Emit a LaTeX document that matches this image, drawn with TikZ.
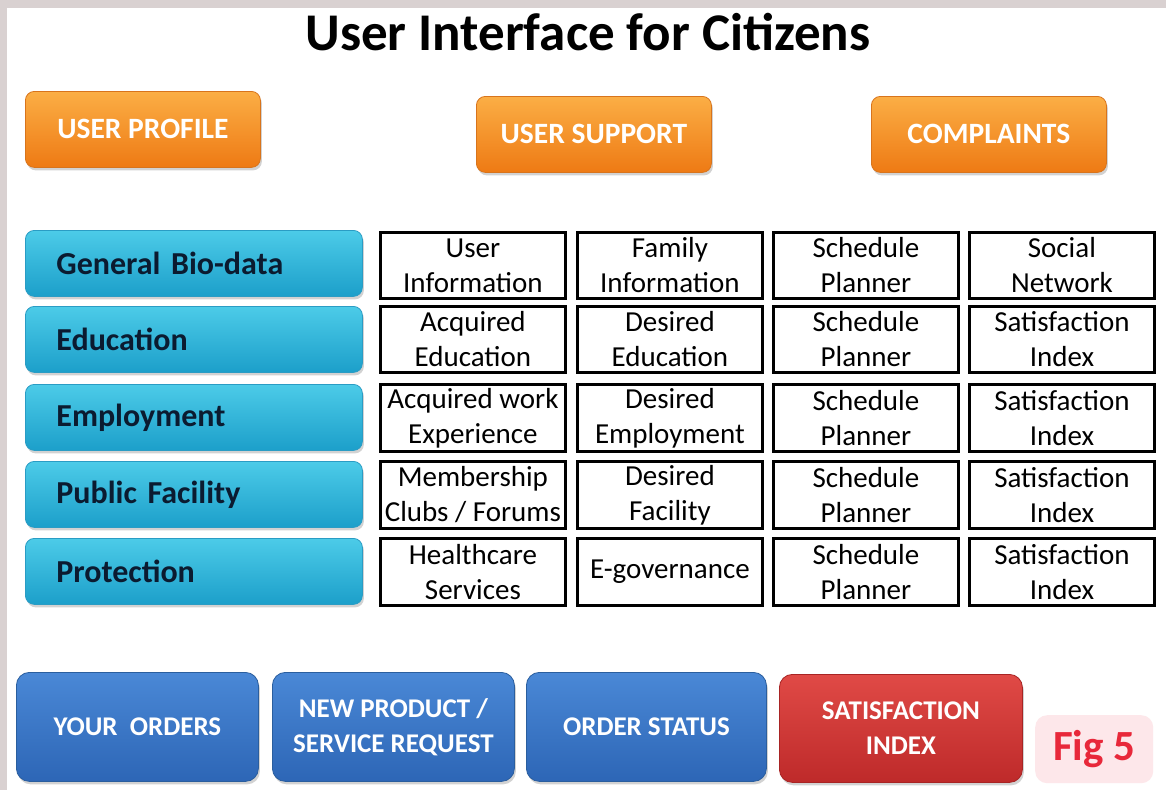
\documentclass[tikz,border=0pt]{standalone}
\usepackage{fontspec}
\setmainfont{Carlito}
\usetikzlibrary{shadows}
\definecolor{framegray}{HTML}{D9D1D1}
\definecolor{orTop}{HTML}{FBAE45}
\definecolor{orBot}{HTML}{EE7A14}
\definecolor{orLine}{HTML}{D8741C}
\definecolor{cyTop}{HTML}{4CCBE8}
\definecolor{cyBot}{HTML}{1C9FCA}
\definecolor{cyLine}{HTML}{2A9CC4}
\definecolor{cyText}{HTML}{0B1B30}
\definecolor{blTop}{HTML}{4A88D6}
\definecolor{blBot}{HTML}{2D66B6}
\definecolor{blLine}{HTML}{2A5E9E}
\definecolor{rdTop}{HTML}{E04A46}
\definecolor{rdBot}{HTML}{BE2A2A}
\definecolor{rdLine}{HTML}{A82424}
\definecolor{figFill}{HTML}{FDE7EA}
\definecolor{figText}{HTML}{E8283A}
\tikzset{
  obtn/.style={rounded corners=9pt, draw=orLine, line width=0.8pt,
    top color=orTop, bottom color=orBot,
    drop shadow={opacity=0.35, shadow xshift=1.5pt, shadow yshift=-3pt},
    text=white, font=\bfseries\fontsize{29.5}{35}\selectfont,
    minimum width=235, minimum height=76, inner sep=0pt, anchor=north west},
  cbar/.style={rounded corners=9pt, draw=cyLine, line width=0.8pt,
    top color=cyTop, bottom color=cyBot,
    drop shadow={opacity=0.35, shadow xshift=1.5pt, shadow yshift=-3pt},
    text=cyText, font=\bfseries\fontsize{32}{38}\selectfont,
    minimum width=337, minimum height=66, inner xsep=31pt, inner ysep=0pt,
    text width=275pt, align=left, anchor=north west},
  cell/.style={draw=black, line width=2.8pt, fill=white,
    minimum width=185, minimum height=66, inner sep=0pt,
    align=center, font=\fontsize{29}{35}\selectfont, anchor=north west},
  bbtn/.style={rounded corners=13pt, draw=blLine, line width=0.8pt,
    top color=blTop, bottom color=blBot,
    drop shadow={opacity=0.35, shadow xshift=1.5pt, shadow yshift=-3pt},
    text=white, font=\bfseries\fontsize{27}{35}\selectfont, align=center,
    minimum width=242, minimum height=109, inner sep=0pt, anchor=north west},
  rbtn/.style={bbtn, draw=rdLine, top color=rdTop, bottom color=rdBot},
}
\begin{document}
\begin{tikzpicture}[x=1pt,y=-1pt]
\useasboundingbox (0,0) rectangle (1166,790);
\fill[white] (0,0) rectangle (1166,790);
\fill[framegray] (0,0) rectangle (1166,8);
\fill[framegray] (0,0) rectangle (7,790);

\node[font=\bfseries\fontsize{53}{60}\selectfont, anchor=base] (title) at (588,50) {User Interface for Citizens};

\node[obtn] (profile) at (25,91) {USER PROFILE};
\node[obtn] (support) at (476,96) {USER SUPPORT};
\node[obtn] (complaints) at (871,96) {COMPLAINTS};

\node[cbar] (bio) at (25,230) {General Bio-data};
\node[cbar] (edu) at (25,306) {Education};
\node[cbar] (emp) at (25,384) {Employment};
\node[cbar] (pub) at (25,461) {Public Facility};
\node[cbar] (pro) at (25,538) {Protection};

\node[cell] (c11) at (379,231) {User\\Information};
\node[cell] (c12) at (576,231) {Family\\Information};
\node[cell] (c13) at (772,231) {Schedule\\Planner};
\node[cell] (c14) at (968,231) {Social\\Network};

\node[cell] (c21) at (379,305) {Acquired\\Education};
\node[cell] (c22) at (576,305) {Desired\\Education};
\node[cell] (c23) at (772,305) {Schedule\\Planner};
\node[cell] (c24) at (968,305) {Satisfaction\\Index};

\node[cell, minimum height=67] (c31) at (379,383) {Acquired work\\Experience};
\node[cell, minimum height=67] (c32) at (576,383) {Desired\\Employment};
\node[cell, minimum height=67] (c33) at (772,383) {Schedule\\Planner};
\node[cell, minimum height=67] (c34) at (968,383) {Satisfaction\\Index};

\node[cell, minimum height=67] (c41) at (379,460) {Membership\\Clubs / Forums};
\node[cell, minimum height=67] (c42) at (576,460) {Desired\\Facility};
\node[cell, minimum height=67] (c43) at (772,460) {Schedule\\Planner};
\node[cell, minimum height=67] (c44) at (968,460) {Satisfaction\\Index};

\node[cell, minimum height=67] (c51) at (379,537) {Healthcare\\Services};
\node[cell, minimum height=67] (c52) at (576,537) {E-governance};
\node[cell, minimum height=67] (c53) at (772,537) {Schedule\\Planner};
\node[cell, minimum height=67] (c54) at (968,537) {Satisfaction\\Index};

\node[bbtn] (orders) at (16,672) {YOUR~~ORDERS};
\node[bbtn] (newreq) at (272,672) {NEW PRODUCT /\\SERVICE REQUEST};
\node[bbtn, minimum width=240] (status) at (526,672) {ORDER STATUS};
\node[rbtn, minimum width=243, minimum height=108] (sat) at (779,674) {SATISFACTION\\INDEX};

\node[fill=figFill, rounded corners=12pt, minimum width=118, minimum height=68, inner sep=0pt,
  anchor=north west, text=figText, font=\bfseries\fontsize{43}{50}\selectfont] (fig) at (1035,715) {Fig 5};
\end{tikzpicture}
\end{document}
